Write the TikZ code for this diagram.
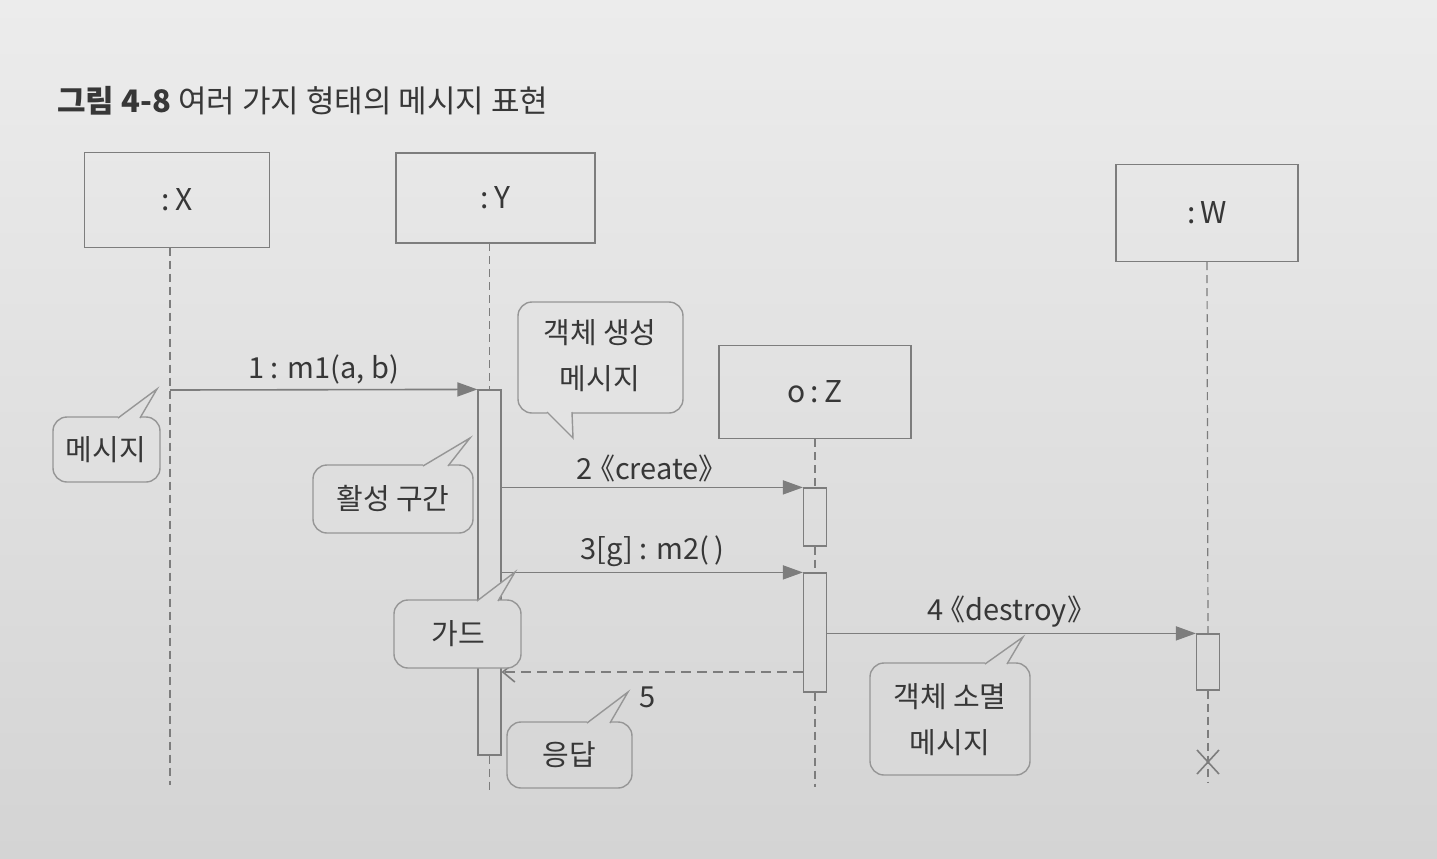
\documentclass[tikz,border=0pt]{standalone}
\usepackage{fontspec}
\setmainfont{Noto Sans CJK KR}
\usetikzlibrary{arrows.meta,calc}
\definecolor{ln}{RGB}{125,125,125}
\definecolor{cb}{RGB}{150,150,150}
\definecolor{tx}{RGB}{55,55,55}
\tikzset{
  objbox/.style={draw=ln, line width=0.6pt, font=\fontsize{15}{18}\selectfont, text=tx, inner sep=0pt},
  actbox/.style={draw=ln, line width=0.6pt, minimum width=11.5pt, inner sep=0pt},
  life/.style={draw=ln, line width=0.6pt, dash pattern=on 4pt off 2.5pt},
  msg/.style={draw=ln, line width=0.8pt, -{Triangle[length=10pt,width=7pt]}},
  ret/.style={draw=ln, line width=0.8pt, dash pattern=on 5pt off 3pt, -{Straight Barb[length=6pt,width=10pt,line width=0.8pt]}},
  mlabel/.style={font=\fontsize{14.5}{17}\selectfont, text=tx, inner sep=0pt},
  ctext/.style={font=\fontsize{14.5}{23}\selectfont, text=tx, align=center, inner sep=0pt},
  cshape/.style={draw=cb, line width=0.7pt},
}
\begin{document}
\begin{tikzpicture}[x=0.5pt,y=-0.5pt]
\useasboundingbox (0,0) rectangle (1437,858);
\shade[top color={rgb,255:red,236;green,236;blue,236}, bottom color={rgb,255:red,212;green,212;blue,212}] (0,0) rectangle (1437,858);

% title
\node[anchor=base west, inner sep=0pt, text=tx, font=\fontsize{15.5}{18}\selectfont] (title) at (57,112) {\textbf{그림 4-8} 여러 가지 형태의 메시지 표현};

% objects
\node[objbox, minimum width=92.5pt, minimum height=47.5pt] (X) at (177,200) {:\,X};
\node[objbox, minimum width=99.5pt, minimum height=45pt] (Y) at (495.5,198) {:\,Y};
\node[objbox, minimum width=96pt, minimum height=46.5pt] (Z) at (815,392) {o\,:\,Z};
\node[objbox, minimum width=91pt, minimum height=48.5pt] (W) at (1207,213) {:\,W};

% activations
\node[actbox, minimum height=182.5pt] (aY) at (489.5,572.5) {};
\node[actbox, minimum height=29pt] (aZ1) at (815,517) {};
\node[actbox, minimum height=59.5pt] (aZ2) at (815,632.5) {};
\node[actbox, minimum height=28pt] (aW) at (1208,662) {};

% lifeline ends
\coordinate (Xtop) at (170,247.5);
\coordinate (Xend) at (170,785);
\coordinate (Ytop) at (489.5,243);
\coordinate (Yend) at (489.5,792);
\coordinate (Zend) at (815,787);
\coordinate (Wend) at (1208,782);

\draw[life] (Xtop) -- (Xend);
\draw[life] (Ytop) -- (aY.north);
\draw[life] (aY.south) -- (Yend);
\draw[life] (Z.south) -- (aZ1.north);
\draw[life] (aZ1.south) -- (aZ2.north);
\draw[life] (aZ2.south) -- (Zend);
\draw[life] (W.south) -- (aW.north);
\draw[life] (aW.south) -- (Wend);

% destruction mark
\coordinate (dx) at (1208,762);
\draw[ln, line width=0.8pt] ($(dx)+(-11,-12)$) -- ($(dx)+(11,12)$);
\draw[ln, line width=0.8pt] ($(dx)+(11,-12)$) -- ($(dx)+(-11,12)$);

% messages
\coordinate (m1s) at (170,390);
\draw[msg] (m1s) -- (aY.north west) node[mlabel, midway, above=2.5pt] (l1) {1 : m1(a, b)};
\draw[msg] (aY.east |- aZ1.north) -- (aZ1.north west) node[mlabel, midway, above=2.5pt] (l2) {2 \kern-0.45em《create》};
\draw[msg] (aY.east |- aZ2.north) -- (aZ2.north west) node[mlabel, midway, above=2.5pt] (l3) {3[g] : m2(\,)};
\draw[msg] (aZ2.east |- aW.north) -- (aW.north west) node[mlabel, midway, above=2.5pt] (l4) {4 \kern-0.45em《destroy》};
\coordinate (r5) at (0,672);
\draw[ret] (aZ2.west |- r5) -- (aY.east |- r5);
\node[mlabel] (l5) at (648,697) {5};

% callouts
% 메시지
\filldraw[cshape, fill={rgb,255:red,224;green,224;blue,224}, rounded corners=7pt] (140,417) -- (160,417) -- (160,482) -- (53,482) -- (53,417) -- (118,417);
\filldraw[cshape, fill={rgb,255:red,224;green,224;blue,224}] (118,418) -- (157,389) -- (140,418);
\node[ctext] (c1) at (106,450) {메시지};

% 활성 구간
\filldraw[cshape, fill={rgb,255:red,222;green,222;blue,222}, rounded corners=7pt] (448,465) -- (473,465) -- (473,533) -- (313,533) -- (313,465) -- (423,465);
\filldraw[cshape, fill={rgb,255:red,222;green,222;blue,222}] (423,466) -- (470,438) -- (448,466);
\node[ctext] (c2) at (393,499) {활성 구간};

% 객체 생성 메시지
\filldraw[cshape, fill={rgb,255:red,227;green,227;blue,227}, rounded corners=7pt] (547,413) -- (518,413) -- (518,302) -- (683,302) -- (683,413) -- (572,413);
\filldraw[cshape, fill={rgb,255:red,227;green,227;blue,227}] (547,412) -- (573,438) -- (572,412);
\node[ctext] (c3) at (600,356) {객체 생성\\메시지};

% 가드
\filldraw[cshape, fill={rgb,255:red,219;green,219;blue,219}, rounded corners=7pt] (498,600) -- (521,600) -- (521,668) -- (394,668) -- (394,600) -- (477,600);
\filldraw[cshape, fill={rgb,255:red,219;green,219;blue,219}] (477,601) -- (515,572) -- (498,601);
\node[ctext] (c4) at (458,634) {가드};

% 응답
\filldraw[cshape, fill={rgb,255:red,215;green,215;blue,215}, rounded corners=7pt] (610,722) -- (632,722) -- (632,788) -- (507,788) -- (507,722) -- (587,722);
\filldraw[cshape, fill={rgb,255:red,215;green,215;blue,215}] (587,723) -- (628,692) -- (610,723);
\node[ctext] (c5) at (569,755) {응답};

% 객체 소멸 메시지
\filldraw[cshape, fill={rgb,255:red,217;green,217;blue,217}, rounded corners=7pt] (1007,663) -- (1030,663) -- (1030,775) -- (870,775) -- (870,663) -- (985,663);
\filldraw[cshape, fill={rgb,255:red,217;green,217;blue,217}] (985,664) -- (1023,637) -- (1007,664);
\node[ctext] (c6) at (950,720) {객체 소멸\\메시지};
\end{tikzpicture}
\end{document}
